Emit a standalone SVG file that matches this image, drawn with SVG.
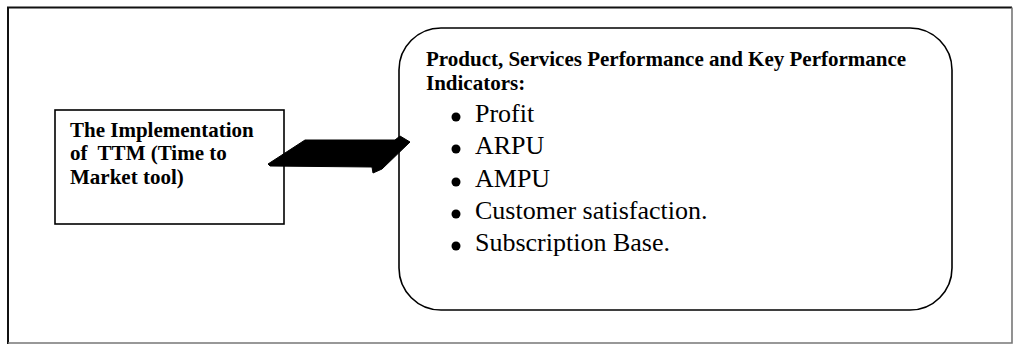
<svg xmlns="http://www.w3.org/2000/svg" width="1021" height="345" viewBox="0 0 1021 345">
<style>
.b{font-family:"Liberation Serif","Times New Roman",serif;font-weight:bold;font-size:21px;fill:#000}
.r{font-family:"Liberation Serif","Times New Roman",serif;font-size:26px;fill:#000}
.box{fill:#fff;stroke:#000;stroke-width:1.6}
</style>
<rect x="0" y="0" width="1021" height="345" fill="#fff"/>
<g id="frame">
<path d="M8,344 V7.5 H1012" fill="none" stroke="#111" stroke-width="2"/>
<path d="M1012,7.5 V343 H8" fill="none" stroke="#777" stroke-width="1.6"/>
</g>
<g id="node-ttm">
<rect class="box" x="55" y="110" width="229" height="114"/>
<text class="b" x="70" y="136.5">The Implementation</text>
<text class="b" x="70" y="160.2" xml:space="preserve">of  TTM (Time to</text>
<text class="b" x="70" y="184">Market tool)</text>
</g>
<g id="node-kpi">
<rect class="box" x="399" y="28" width="553" height="282" rx="42" ry="42"/>
<text class="b" x="426" y="66">Product, Services Performance and Key Performance</text>
<text class="b" x="426" y="89.5">Indicators:</text>
<g fill="#000">
<circle cx="456" cy="117" r="4.5"/>
<circle cx="456" cy="149" r="4.5"/>
<circle cx="456" cy="182" r="4.5"/>
<circle cx="456" cy="214" r="4.5"/>
<circle cx="456" cy="246" r="4.5"/>
</g>
<text class="r" x="475" y="122">Profit</text>
<text class="r" x="475" y="154">ARPU</text>
<text class="r" x="475" y="187">AMPU</text>
<text class="r" x="475" y="219">Customer satisfaction.</text>
<text class="r" x="475" y="251">Subscription Base.</text>
</g>
<g id="connectors">
<polygon points="268,164 305,140 395,140 400,136 410,142 382,169 373,173 372,167 270,166" fill="#000" stroke="#000" stroke-width="1" stroke-linejoin="round"/>
</g>
</svg>
